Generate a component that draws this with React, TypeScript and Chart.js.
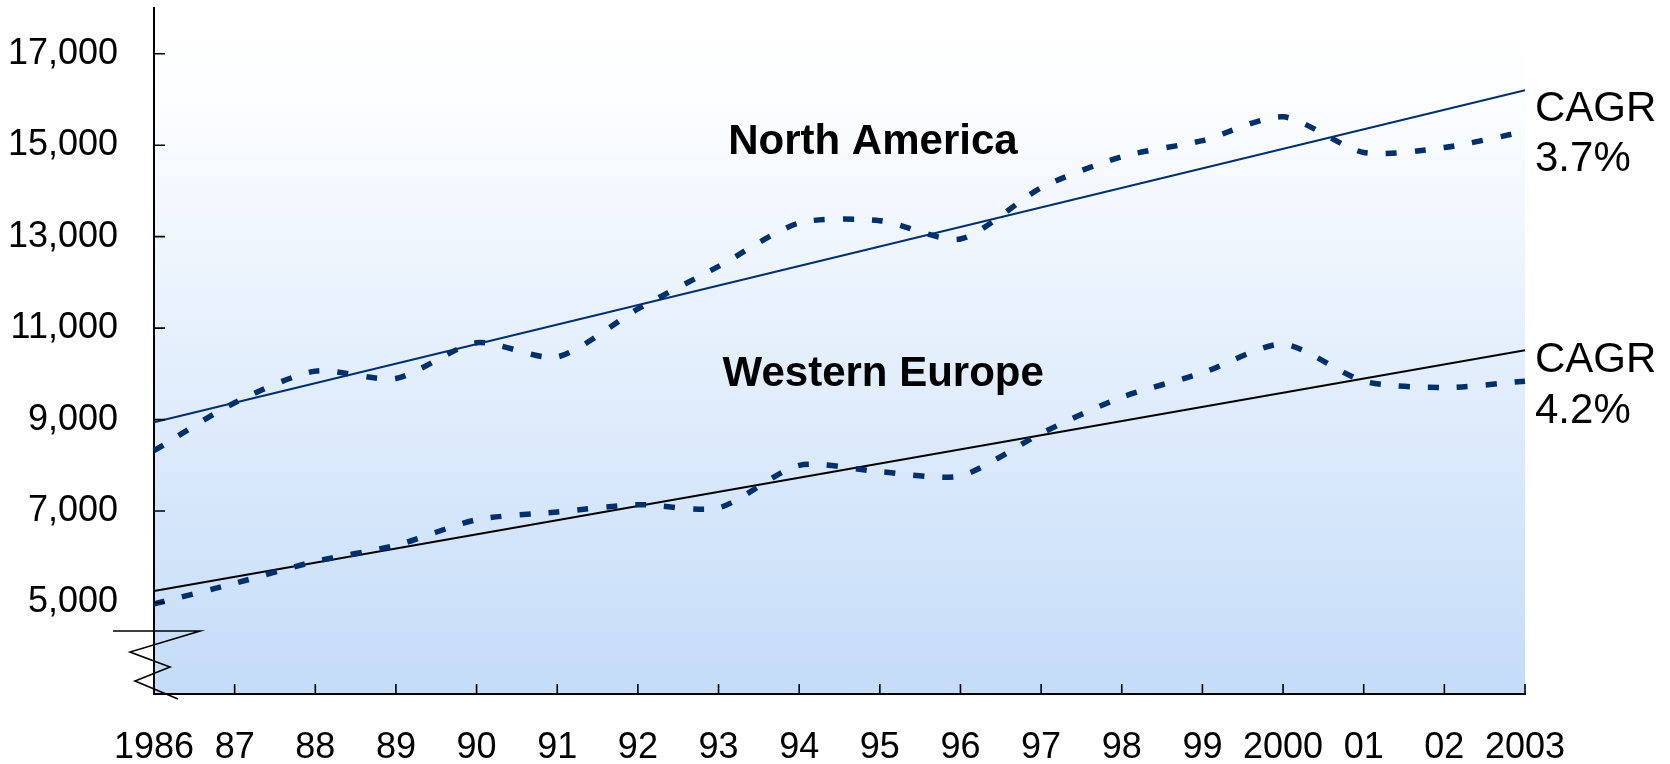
import React, { useEffect, useRef } from 'react';
import { Chart, registerables } from 'chart.js';

Chart.register(...registerables);

// Years along the x axis
const years = ['1986', '87', '88', '89', '90', '91', '92', '93', '94', '95', '96', '97', '98', '99', '2000', '01', '02', '2003'];

// Annual values per region
const northAmerica = [8320, 9370, 10060, 9900, 10680, 10370, 11420, 12350, 13300, 13350, 12950, 14070, 14750, 15100, 15620, 14840, 14950, 15300];
const westernEurope = [4970, 5420, 5900, 6250, 6810, 6980, 7140, 7070, 8000, 7860, 7770, 8700, 9490, 10020, 10650, 9840, 9700, 9840];

// Trend line end points (first year, last year)
const northAmericaTrend = [8940, 16200];
const westernEuropeTrend = [5250, 10515];

// Value axis
const yTicks = [5000, 7000, 9000, 11000, 13000, 15000, 17000];
const yMin = 3000;
const yMax = 18000;

// Text
const regionNames = ['North America', 'Western Europe'];
const cagrTitle = 'CAGR';
const cagrValues = ['3.7%', '4.2%'];

const FONT = '"Liberation Sans", Arial, Helvetica, sans-serif';
const NAVY = '#00306b';

const chartDecor = {
  id: 'chartDecor',
  beforeDraw(chart: any) {
    const { ctx, chartArea: a } = chart;
    const g = ctx.createLinearGradient(0, a.top, 0, a.bottom);
    g.addColorStop(0, '#ffffff');
    g.addColorStop(0.12, '#fdfeff');
    g.addColorStop(1, '#c4dcf8');
    ctx.save();
    ctx.fillStyle = g;
    ctx.fillRect(a.left, a.top, a.right - a.left, a.bottom - a.top);
    ctx.restore();
  },
  afterDraw(chart: any) {
    const { ctx, chartArea: a, scales } = chart;
    const x = scales.x;
    const y = scales.y;
    ctx.save();

    // inward tick marks
    ctx.strokeStyle = '#000';
    ctx.lineWidth = 1.6;
    ctx.beginPath();
    yTicks.forEach((v) => {
      const py = y.getPixelForValue(v);
      ctx.moveTo(a.left, py);
      ctx.lineTo(a.left + 11, py);
    });
    years.forEach((_, i) => {
      if (i === 0) return;
      const px = x.getPixelForValue(i);
      ctx.moveTo(px, a.bottom);
      ctx.lineTo(px, a.bottom - 10);
    });
    ctx.stroke();

    // axis break zigzag
    const ox = a.left;
    const oy = a.bottom;
    ctx.lineWidth = 1.6;
    ctx.beginPath();
    ctx.moveTo(ox - 41, oy - 63);
    ctx.lineTo(ox + 46, oy - 63);
    ctx.lineTo(ox - 24, oy - 42);
    ctx.lineTo(ox + 16, oy - 27);
    ctx.lineTo(ox - 19, oy - 13);
    ctx.lineTo(ox + 24, oy + 5);
    ctx.stroke();

    // region names
    ctx.fillStyle = '#000';
    ctx.textAlign = 'left';
    ctx.textBaseline = 'alphabetic';
    ctx.font = `bold 42px ${FONT}`;
    ctx.fillText(regionNames[0], x.getPixelForValue(7.12), y.getPixelForValue(14810));
    ctx.fillText(regionNames[1], x.getPixelForValue(7.05), y.getPixelForValue(9735));

    // growth rates beside the trend lines
    ctx.font = `42px ${FONT}`;
    const lx = a.right + 10;
    ctx.fillText(cagrTitle, lx, y.getPixelForValue(15530));
    ctx.fillText(cagrValues[0], lx, y.getPixelForValue(14430));
    ctx.fillText(cagrTitle, lx, y.getPixelForValue(10030));
    ctx.fillText(cagrValues[1], lx, y.getPixelForValue(8920));

    ctx.restore();
  },
};

export default function App() {
  const ref = useRef<HTMLCanvasElement>(null);

  useEffect(() => {
    document.body.style.margin = '0';
    const first = years[0];
    const last = years[years.length - 1];
    const chart = new Chart(ref.current!, {
      type: 'line',
      data: {
        labels: years,
        datasets: [
          {
            data: northAmerica,
            borderColor: NAVY,
            borderWidth: 5.5,
            borderDash: [11, 18],
            borderCapStyle: 'butt',
            tension: 0.25,
            pointRadius: 0,
            fill: false,
          },
          {
            data: [
              { x: first, y: northAmericaTrend[0] },
              { x: last, y: northAmericaTrend[1] },
            ],
            borderColor: NAVY,
            borderWidth: 2,
            tension: 0,
            pointRadius: 0,
            fill: false,
          },
          {
            data: westernEurope,
            borderColor: NAVY,
            borderWidth: 5.5,
            borderDash: [11, 18],
            borderCapStyle: 'butt',
            tension: 0.25,
            pointRadius: 0,
            fill: false,
          },
          {
            data: [
              { x: first, y: westernEuropeTrend[0] },
              { x: last, y: westernEuropeTrend[1] },
            ],
            borderColor: '#000',
            borderWidth: 2,
            tension: 0,
            pointRadius: 0,
            fill: false,
          },
        ] as any,
      },
      options: {
        responsive: false,
        animation: false,
        devicePixelRatio: 1,
        layout: { padding: { left: 0, right: 145, top: 8, bottom: 0 } },
        plugins: {
          legend: { display: false },
          tooltip: { enabled: false },
        },
        scales: {
          x: {
            type: 'category',
            offset: false,
            grid: { display: false },
            border: { display: true, color: '#000', width: 2 },
            ticks: {
              autoSkip: false,
              maxRotation: 0,
              minRotation: 0,
              padding: 24,
              color: '#000',
              font: { family: FONT, size: 36 },
            },
            afterFit: (s: any) => {
              s.height = 70;
              s.paddingLeft = 0;
              s.paddingRight = 0;
            },
          },
          y: {
            type: 'linear',
            min: yMin,
            max: yMax,
            grid: { display: false },
            border: { display: true, color: '#000', width: 2 },
            afterBuildTicks: (s: any) => {
              s.ticks = yTicks.map((v) => ({ value: v }));
            },
            ticks: {
              padding: 28,
              color: '#000',
              font: { family: FONT, size: 36 },
              callback: (v: any) => Number(v).toLocaleString('en-US'),
            },
            afterFit: (s: any) => {
              s.width = 154;
              s.paddingTop = 0;
              s.paddingBottom = 0;
            },
          },
        },
      },
      plugins: [chartDecor],
    });
    return () => chart.destroy();
  }, []);

  return (
    <div style={{ position: 'absolute', left: 0, top: 0, width: 1670, height: 764 }}>
      <canvas ref={ref} width={1670} height={764} style={{ display: 'block' }} />
    </div>
  );
}
